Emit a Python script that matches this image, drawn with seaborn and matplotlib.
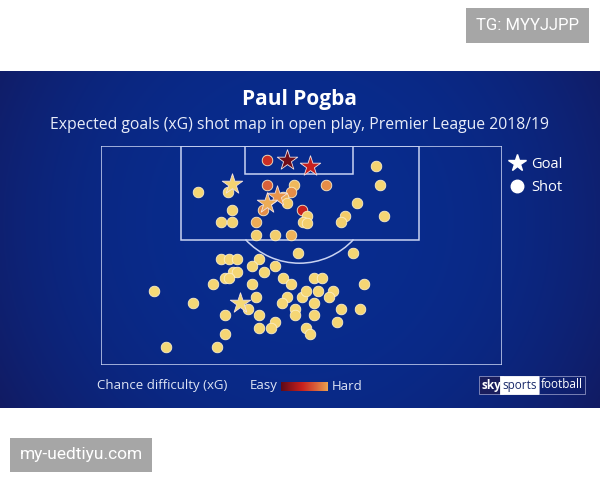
import numpy as np
import matplotlib
matplotlib.use("Agg")
import matplotlib.pyplot as plt
import seaborn as sns
import pandas as pd
from matplotlib.colors import LinearSegmentedColormap, Normalize, to_rgb
from matplotlib.patches import Rectangle, Arc
from matplotlib.lines import Line2D

# ---------------- data (pitch units: x from left touchline, y from goal line) -------------
shot_x = [167, 98, 128, 167, 194, 191, 183, 187, 163, 202, 207, 203, 207, 132, 121, 132,
          156, 156, 175, 191, 226, 276, 280, 257, 245, 241, 284,
          198, 253, 121, 129, 137, 159, 152, 175, 164, 133, 137, 125, 129, 113, 152, 183,
          191, 214, 222, 264, 156, 187, 182, 202, 206, 218, 233, 229, 214, 195, 195, 241,
          260, 214, 237, 206, 210, 148, 159, 125, 175, 171, 159, 125, 117, 66, 54, 93]
shot_y = [15, 47, 47, 40, 40, 47, 52, 58, 65, 65, 71, 77, 78, 65, 77, 77,
          77, 90, 90, 90, 40, 21, 40, 58, 71, 77, 71,
          108, 108, 114, 114, 114, 114, 121, 121, 127, 127, 127, 133, 133, 139, 139, 133,
          139, 133, 133, 139, 152, 152, 158, 152, 146, 146, 146, 152, 158, 164, 170, 164,
          164, 170, 177, 183, 189, 164, 170, 170, 177, 183, 183, 189, 202, 202, 146, 158]
shot_xg = [0.45, 0.03, 0.04, 0.30, 0.10, 0.18, 0.12, 0.07, 0.18, 0.50, 0.05, 0.05, 0.05, 0.04,
           0.04, 0.04, 0.12, 0.05, 0.05, 0.11, 0.18, 0.04, 0.03, 0.04, 0.06, 0.05, 0.03,
           0.03, 0.03, 0.03, 0.03, 0.03, 0.03, 0.03, 0.03, 0.03, 0.03, 0.03, 0.03, 0.03,
           0.03, 0.03, 0.03, 0.03, 0.03, 0.03, 0.03, 0.03, 0.03, 0.03, 0.03, 0.03, 0.03,
           0.03, 0.03, 0.03, 0.03, 0.03, 0.03, 0.03, 0.03, 0.03, 0.03, 0.03, 0.03, 0.03,
           0.03, 0.03, 0.03, 0.03, 0.03, 0.02, 0.02, 0.02, 0.02]

goal_x = [187, 210, 132, 177, 167, 140]
goal_y = [15, 21, 39, 51, 58, 158]
goal_xg = [0.75, 0.50, 0.04, 0.16, 0.12, 0.02]

title = "Paul Pogba"
subtitle = "Expected goals (xG) shot map in open play, Premier League 2018/19"
legend_labels = ["Goal", "Shot"]

# pitch geometry (same units)
PITCH_W, PITCH_L = 401, 219
BOX_X, BOX_W, BOX_D = 80, 238, 94
SIX_X, SIX_W, SIX_D = 144, 108, 28

shots = pd.DataFrame({"x": shot_x, "y": shot_y, "xg": shot_xg})
goals = pd.DataFrame({"x": goal_x, "y": goal_y, "xg": goal_xg})

cmap = LinearSegmentedColormap.from_list(
    "xg", [(0.0, "#f6e07e"), (0.10, "#f2c462"), (0.20, "#e8944a"),
           (0.375, "#d9603a"), (0.625, "#c8201e"), (1.0, "#5e0a18")])
norm = Normalize(0, 0.8)

# ---------------- figure ----------------
sns.set_theme(style="white")
plt.rcParams["font.family"] = ["Open Sans", "DejaVu Sans"]

fig = plt.figure(figsize=(6, 4.8), dpi=100, facecolor="white")

# blue panel with gradient
bg = fig.add_axes([0, 72 / 480, 1, 337 / 480])
gx, gy = np.meshgrid(np.linspace(0, 1, 300), np.linspace(0, 1, 200))
t = np.clip(((gx - 0.5) / 0.6) ** 2 + ((gy - 0.55) / 1.1) ** 2, 0, 1) ** 1.3
center = np.array(to_rgb("#082c8e"))
edge = np.array(to_rgb("#121a60"))
img = center[None, None, :] * (1 - t[..., None]) + edge[None, None, :] * t[..., None]
bg.imshow(img, extent=[0, 1, 0, 1], aspect="auto", origin="lower")
bg.set_axis_off()

# pitch
ax = fig.add_axes([100.5 / 600, (480 - 364.5) / 480, 401 / 600, 219 / 480])
ax.patch.set_alpha(0)
lc = "#c9d3f2"
lw = 1.1
ax.add_patch(Rectangle((0, 0), PITCH_W, PITCH_L, fill=False, ec=lc, lw=lw, zorder=1))
ax.add_patch(Rectangle((BOX_X, 0), BOX_W, BOX_D, fill=False, ec=lc, lw=lw, zorder=1))
ax.add_patch(Rectangle((SIX_X, 0), SIX_W, SIX_D, fill=False, ec=lc, lw=lw, zorder=1))
r = 73.4
ax.add_patch(Arc((BOX_X + BOX_W / 2, BOX_D - 49.7), 2 * r, 2 * r, theta1=42.6, theta2=137.4,
                 ec=lc, lw=lw, zorder=1))

sns.scatterplot(data=shots, x="x", y="y", hue="xg", palette=cmap, hue_norm=norm,
                s=58, marker="o", edgecolor="#fbeec8", linewidth=0.6, legend=False,
                ax=ax, zorder=3)
sns.scatterplot(data=goals, x="x", y="y", hue="xg", palette=cmap, hue_norm=norm,
                s=240, marker="*", edgecolor="#f3e2e2", linewidth=0.6, legend=False,
                ax=ax, zorder=4)
ax.set_xlim(0, PITCH_W)
ax.set_ylim(PITCH_L, 0)
ax.set_axis_off()

# titles
fig.text(0.5, 1 - 100 / 480, title, ha="center", va="center", fontsize=15,
         fontweight="bold", color="white")
fig.text(0.5, 1 - 125 / 480, subtitle, ha="center", va="center", fontsize=11.3,
         color="#e9edf9")

# legend
handles = [Line2D([], [], marker="*", color="none", markerfacecolor="white",
                  markeredgecolor="white", markersize=13),
           Line2D([], [], marker="o", color="none", markerfacecolor="white",
                  markeredgecolor="white", markersize=9)]
fig.legend(handles, legend_labels, loc="center left",
           bbox_to_anchor=(493 / 600, 1 - 176 / 480), frameon=False,
           labelcolor="white", fontsize=10.5, handletextpad=0.2, labelspacing=0.6,
           handlelength=1.5)

# bottom key
fig.text(97 / 600, 1 - 385 / 480, "Chance difficulty (xG)", ha="left", va="center",
         fontsize=9.5, color="#dfe5f5")
fig.text(250 / 600, 1 - 386 / 480, "Easy", ha="left", va="center", fontsize=9.5,
         color="#dfe5f5")
fig.text(332 / 600, 1 - 386 / 480, "Hard", ha="left", va="center", fontsize=9.5,
         color="#dfe5f5")
cax = fig.add_axes([281 / 600, (480 - 391) / 480, 47 / 600, 9 / 480])
cax.imshow(np.linspace(0.8, 0.13, 256)[None, :], cmap=cmap, norm=norm, aspect="auto")
cax.set_axis_off()

# logo
ly = 1 - 385 / 480
fig.text(481 / 600, ly, "sky", ha="left", va="center", fontsize=8.5, fontweight="bold",
         color="white", bbox=dict(boxstyle="square,pad=0.2", fc="#1a1d5c", ec="#8a90c0", lw=0.6))
fig.text(502 / 600, ly, "sports", ha="left", va="center", fontsize=8.5, color="#1a2a6a",
         bbox=dict(boxstyle="square,pad=0.2", fc="white", ec="white", lw=0.6))
fig.text(541 / 600, ly, "football", ha="left", va="center", fontsize=8.5, color="white",
         bbox=dict(boxstyle="square,pad=0.2", fc="none", ec="#8a90c0", lw=0.6))

# watermarks
fig.text(527.5 / 600, 1 - 25 / 480, "TG: MYYJJPP", ha="center", va="center", fontsize=12,
         color="white", family=["Roboto", "DejaVu Sans"],
         bbox=dict(boxstyle="square,pad=0.6", fc="#a6a6a6", ec="none"))
fig.text(81 / 600, 1 - 455 / 480, "my-uedtiyu.com", ha="center", va="center", fontsize=12.5,
         color="white", family=["Roboto", "DejaVu Sans"],
         bbox=dict(boxstyle="square,pad=0.55", fc="#a6a6a6", ec="none"))

fig.savefig("out.png", dpi=100, facecolor="white")
